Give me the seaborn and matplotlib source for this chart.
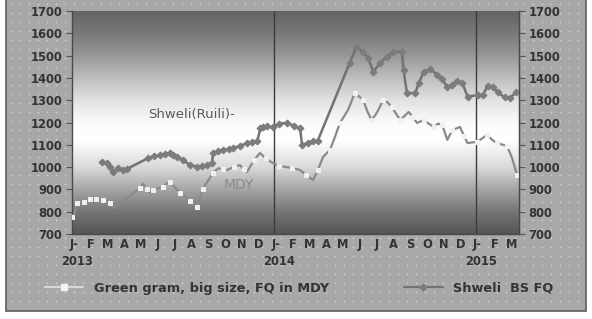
import numpy as np
import pandas as pd
import matplotlib
matplotlib.use("Agg")
import matplotlib.pyplot as plt
from matplotlib.colors import LinearSegmentedColormap
from matplotlib.patches import Rectangle
from matplotlib.lines import Line2D
import seaborn as sns

# months counted from Jan 2013 (0 = Jan 2013)
mdy_month = [0.0, 0.15, 0.3, 0.48, 0.7, 0.89, 1.05, 1.25, 1.45, 1.66, 1.84, 2.05, 2.26, 2.44,
             4.05, 4.22, 4.45, 4.63, 4.81, 5.1, 5.41, 5.6, 5.82, 6.1, 6.42, 6.7, 7.01, 7.2, 7.43,
             7.6, 7.78, 8.1, 8.38, 8.7, 8.95, 9.21, 9.6, 9.98, 10.2, 10.4, 10.8, 11.17, 11.5,
             11.94, 12.3, 12.77, 13.1, 13.55, 13.9, 14.32, 14.6, 14.91, 15.33, 15.6, 15.92,
             16.4, 16.8, 17.0, 17.3, 17.55, 17.8, 18.1, 18.5, 18.75, 19.0, 19.25, 19.5, 20.0,
             20.25, 20.5, 20.9, 21.2, 21.5, 21.75, 22.0, 22.3, 22.6, 23.05, 23.3, 23.5, 24.06,
             24.4, 24.66, 25.0, 25.25, 25.6, 25.85, 26.15, 26.44]
mdy_price = [776, 790, 839, 852, 845, 843, 855, 866, 858, 861, 852, 845, 839, 817,
             905, 925, 900, 884, 897, 905, 911, 925, 931, 910, 886, 870, 848, 830, 822,
             860, 904, 940, 975, 995, 990, 987, 1000, 1009, 990, 978, 1030, 1063, 1040,
             1018, 1005, 1000, 995, 987, 965, 942, 985, 1045, 1077, 1130, 1198,
             1256, 1332, 1320, 1301, 1250, 1211, 1242, 1301, 1290, 1270, 1240, 1211, 1247,
             1225, 1198, 1211, 1195, 1180, 1195, 1189, 1122, 1166, 1180, 1140, 1108, 1113,
             1130, 1144, 1120, 1108, 1100, 1095, 1040, 965]

shweli_month = [1.76, 2.06, 2.26, 2.44, 2.73, 3.03, 3.27,
                4.52, 4.85, 5.23, 5.5, 5.82, 6.0, 6.24, 6.6, 7.0, 7.43, 7.7, 8.02, 8.32,
                8.38, 8.7, 8.97, 9.3, 9.57, 10.0, 10.4, 10.7, 11.0, 11.2, 11.35, 11.6, 11.94,
                12.3, 12.77, 13.2, 13.55, 13.67, 14.0, 14.3, 14.6,
                16.5, 16.9, 17.3, 17.6, 17.9, 18.3, 18.7, 19.1, 19.6, 19.7, 19.9, 20.4, 20.6,
                20.9, 21.3, 21.7, 22.0, 22.3, 22.6, 22.9, 23.2, 23.5, 24.1, 24.4, 24.7, 25.0,
                25.3, 25.7, 26.0, 26.4]
shweli_price = [1024, 1017, 1002, 980, 995, 987, 992,
                1040, 1048, 1054, 1058, 1063, 1055, 1047, 1032, 1009, 1002, 1005, 1009, 1018,
                1063, 1070, 1077, 1080, 1085, 1095, 1108, 1112, 1115, 1175, 1181, 1185, 1178,
                1195, 1198, 1185, 1175, 1100, 1108, 1115, 1118,
                1467, 1540, 1517, 1490, 1427, 1467, 1494, 1517, 1517, 1435, 1332, 1332, 1377,
                1427, 1440, 1413, 1395, 1358, 1370, 1388, 1377, 1316, 1323, 1322, 1365, 1360,
                1335, 1313, 1310, 1335]

month_labels = ["J-", "F", "M", "A", "M", "J", "J", "A", "S", "O", "N", "D",
                "J-", "F", "M", "A", "M", "J", "J", "A", "S", "O", "N", "D",
                "J-", "F", "M"]
year_labels = ["2013", "2014", "2015"]
y_ticks = list(range(700, 1701, 100))

mdy_name = "Green gram, big size, FQ in MDY"
shweli_name = "Shweli  BS FQ"

mdy = pd.DataFrame({"month": mdy_month, "price": mdy_price})
shweli = pd.DataFrame({"month": shweli_month, "price": shweli_price})

sns.set_style("ticks")
plt.rcParams["font.family"] = ["DejaVu Sans"]

W, H = 592, 319
fig = plt.figure(figsize=(W / 100, H / 100), dpi=100)
fig.patch.set_facecolor("white")

# dotted grey panel behind everything
bg = fig.add_axes([0, 0, 1, 1], zorder=-10)
bg.set_xlim(0, W)
bg.set_ylim(H, 0)
bg.axis("off")
bg.add_patch(Rectangle((6, -2), 580, 313, fc="#a8a8a8", ec="#5c5c5c", lw=1.2))
gx, gy = np.meshgrid(np.arange(11, 584, 9), np.arange(4, 309, 9))
bg.scatter(gx.ravel(), gy.ravel(), s=1.6, color="#d2d2d2", linewidths=0)

ax = fig.add_axes([72 / W, 1 - 234 / H, (519 - 72) / W, (234 - 11) / H], zorder=1)
ax.patch.set_visible(False)

# vertical grey gradient of plot area (0 = bottom, 1 = top)
cmap = LinearSegmentedColormap.from_list(
    "grad", [(0.0, "#555555"), (0.1, "#767676"), (0.2, "#a6a6a6"),
             (0.3, "#dadada"), (0.42, "#ffffff"), (0.5, "#fbfbfb"),
             (0.6, "#e2e2e2"), (0.7, "#bebebe"), (0.8, "#989898"),
             (0.9, "#7a7a7a"), (1.0, "#636363")])
ax.imshow(np.linspace(0, 1, 256).reshape(-1, 1), cmap=cmap, origin="lower",
          extent=[0, 1, 0, 1], transform=ax.transAxes, aspect="auto", zorder=0)

sns.lineplot(data=mdy, x="month", y="price", ax=ax, color="#8a8a8a", lw=1.6,
             marker="s", markersize=2.8, markevery=2, markerfacecolor="#f0f0f0",
             markeredgecolor="#f0f0f0", zorder=3)
sns.lineplot(data=shweli, x="month", y="price", ax=ax, color="#727272", lw=1.8,
             marker="D", markersize=3.5, markerfacecolor="#7c7c7c",
             markeredgecolor="#7c7c7c", zorder=4)

for yr in range(1, len(year_labels)):
    ax.axvline(12 * yr, color="#3c3c3c", lw=1, zorder=2)

ax.set_xlim(0, 26.56)
ax.set_ylim(700, 1700)
ax.set_xlabel("")
ax.set_ylabel("")

tick_font = dict(fontsize=8.3, fontweight="bold", color="#333333")
ax.set_yticks(y_ticks)
ax.set_yticklabels([str(v) for v in y_ticks], **tick_font)
ax.tick_params(axis="y", length=4, width=0.8, color="#555555", pad=3)

ax.set_xticks(np.arange(0, 27, 6))
ax.set_xticklabels([])
ax.tick_params(axis="x", which="major", length=3, direction="in", color="#555555")
ax.set_xticks(np.arange(len(month_labels)) + 0.1, minor=True)
ax.set_xticklabels(month_labels, minor=True, **tick_font)
ax.tick_params(axis="x", which="minor", length=0, pad=3)

for i, yl in enumerate(year_labels):
    ax.text(12 * i + 0.3, -0.095, yl, transform=ax.get_xaxis_transform(),
            ha="center", va="top", **tick_font)

for side in ["left", "bottom", "right"]:
    ax.spines[side].set_color("#4a4a4a")
    ax.spines[side].set_linewidth(1)
ax.spines["top"].set_visible(False)

ax2 = ax.twinx()
ax2.set_ylim(700, 1700)
ax2.set_yticks(y_ticks)
ax2.set_yticklabels([str(v) for v in y_ticks], **tick_font)
ax2.tick_params(axis="y", length=4, width=0.8, color="#555555", pad=3)
for side in ["left", "bottom", "top"]:
    ax2.spines[side].set_visible(False)
ax2.spines["right"].set_color("#4a4a4a")

ax.text(7.13, 1234, "Shweli(Ruili)-", fontsize=9.5, color="#5a5a5a",
        ha="center", va="center", zorder=5)
ax.text(9.9, 920, "MDY", fontsize=10, color="#8a8a8a",
        ha="center", va="center", zorder=5)

# legend proxies (the legend swatches are lighter than the plotted lines)
handles = [
    Line2D([], [], color="#d8d8d8", lw=1.5, marker="s", markersize=5,
           markerfacecolor="#f2f2f2", markeredgecolor="#f2f2f2"),
    Line2D([], [], color="#727272", lw=1.5, marker="D", markersize=3.5,
           markerfacecolor="#7c7c7c", markeredgecolor="#7c7c7c"),
]
leg = fig.legend(handles, [mdy_name, shweli_name], loc="center",
                 bbox_to_anchor=(0.505, 0.097), ncol=2, frameon=False,
                 handlelength=3.0, handletextpad=0.8, columnspacing=5.8,
                 prop=dict(size=9.3, weight="bold"))
for t in leg.get_texts():
    t.set_color("#333333")

fig.savefig("out.png", dpi=100)
